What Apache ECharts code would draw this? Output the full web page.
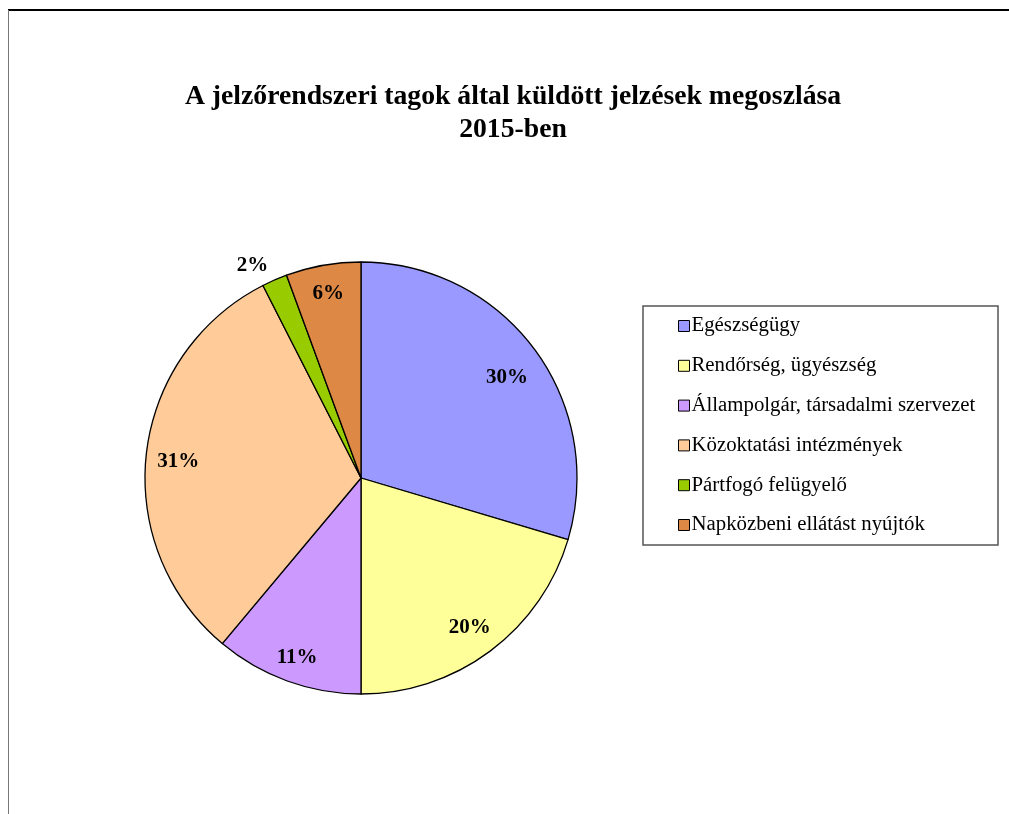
<!DOCTYPE html>
<html>
<head>
<meta charset="utf-8">
<script src="https://cdn.jsdelivr.net/npm/echarts@6/dist/echarts.min.js"></script>
<style>
html,body{margin:0;padding:0;background:#fff;}
#chart{width:1009px;height:814px;}
</style>
</head>
<body>
<div id="chart"></div>
<script>
const categories = ['Egészségügy', 'Rendőrség, ügyészség', 'Állampolgár, társadalmi szervezet', 'Közoktatási intézmények', 'Pártfogó felügyelő', 'Napközbeni ellátást nyújtók'];
const values = [29.6, 20.4, 11.1, 31.4, 1.9, 5.6];
const colors = ['#9999FF', '#FFFF99', '#CC99FF', '#FFCC99', '#99CC00', '#DD8844'];
const titleText = 'A jelzőrendszeri tagok által küldött jelzések megoszlása\n2015-ben';
const outsideLabelIndex = 4;
// small label nudges [dx, dy] to mimic the original label placement
const labelNudges = [[-4, 11], [-3, 0], [0, 4], [3, 5], [0, 0], [0, 0]];

const serif = '"Liberation Serif", "Times New Roman", serif';
const fmt = p => Math.round(p.percent) + '%';

const mainData = categories.map((c, i) => {
  const d = { name: c, value: values[i], itemStyle: { color: colors[i] } };
  if (i === outsideLabelIndex) {
    d.label = { show: true, position: 'outside', formatter: fmt, fontFamily: serif, fontWeight: 'bold', fontSize: 21, color: '#000', distanceToLabelLine: 0 };
    d.labelLine = { show: false, length: 16, length2: 0 };
  }
  return d;
});
const labelData = categories.map((c, i) => ({
  name: c, value: values[i], label: { show: i !== outsideLabelIndex }
}));

const chart = echarts.init(document.getElementById('chart'), null, { renderer: 'canvas' });
chart.setOption({
  animation: false,
  backgroundColor: '#fff',
  title: {
    text: titleText,
    left: 508, top: 75, textAlign: 'center',
    textStyle: { fontFamily: serif, fontWeight: 'bold', fontSize: 27.7, lineHeight: 33, color: '#000' }
  },
  legend: {
    orient: 'vertical',
    left: 643, top: 306,
    data: categories,
    icon: 'rect', itemWidth: 11, itemHeight: 11,
    itemGap: 18.8,
    itemStyle: { borderColor: '#000', borderWidth: 1 },
    padding: [9.5, 0, 0, 35],
    borderWidth: 0,
    textStyle: { fontFamily: serif, fontSize: 20.8, color: '#000', padding: [0, 0, 0, -3] },
    selectedMode: false
  },
  graphic: [
    { type: 'line', shape: { x1: 8, y1: 10, x2: 1009, y2: 10 }, style: { stroke: '#000', lineWidth: 2 } },
    { type: 'line', shape: { x1: 8.5, y1: 10, x2: 8.5, y2: 814 }, style: { stroke: '#777', lineWidth: 1 } },
    { type: 'rect', shape: { x: 643, y: 306, width: 355, height: 239 }, style: { fill: 'none', stroke: '#555', lineWidth: 1.5 }, z: 10 }
  ],
  series: [
    {
      type: 'pie',
      center: [361, 478], radius: [0, 216],
      startAngle: 90, clockwise: true,
      data: mainData,
      label: { show: false },
      labelLine: { show: false },
      itemStyle: { borderColor: '#000', borderWidth: 1.3 },
      emphasis: { disabled: true },
      silent: true
    },
    {
      type: 'pie',
      center: [361, 478], radius: [0, 368],
      startAngle: 90, clockwise: true,
      data: labelData,
      itemStyle: { color: 'rgba(0,0,0,0)', borderWidth: 0 },
      label: { position: 'inside', formatter: fmt, fontFamily: serif, fontWeight: 'bold', fontSize: 21, color: '#000' },
      labelLine: { show: false },
      labelLayout: p => ({ dx: labelNudges[p.dataIndex][0], dy: labelNudges[p.dataIndex][1] }),
      emphasis: { disabled: true },
      silent: true,
      z: 3
    }
  ]
});
</script>
</body>
</html>
